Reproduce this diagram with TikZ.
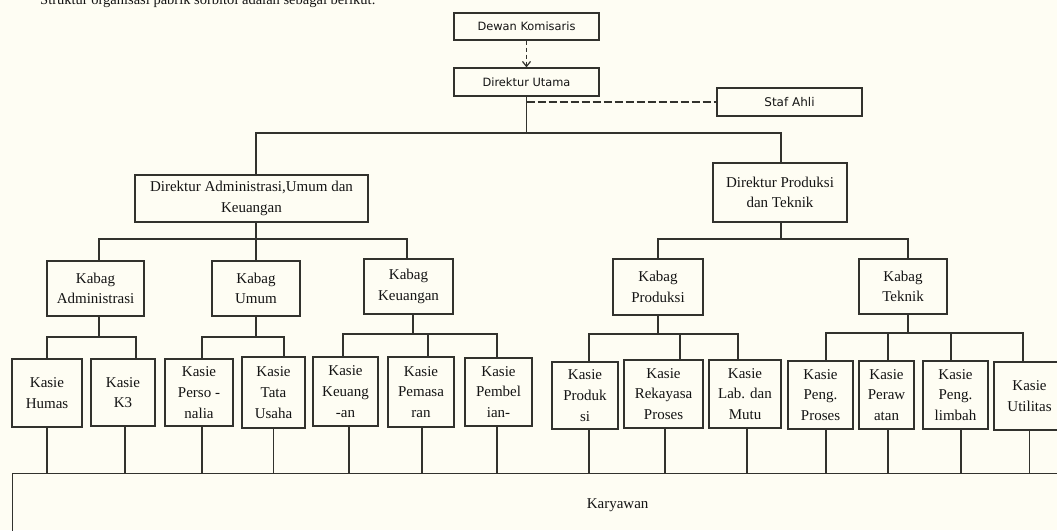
\documentclass[tikz,border=0pt]{standalone}
\usepackage{fontspec}
\usetikzlibrary{arrows.meta}
\newfontfamily\tnr{Liberation Serif}
\newfontfamily\tah{DejaVu Sans}
\definecolor{bgc}{RGB}{254,253,243}
\definecolor{lc}{RGB}{50,50,45}
\definecolor{tc}{RGB}{20,20,20}
\newcommand{\serifsz}{\tnr\fontsize{15}{20.7}\selectfont}
\newcommand{\sansz}{\tah\fontsize{11.4}{13}\selectfont}
\tikzset{
  bx/.style={draw=lc, line width=1.2pt, inner sep=0pt, align=center, font=\serifsz, text=tc},
  sbx/.style={draw=lc, line width=1.2pt, inner sep=0pt, align=center, font=\sansz, text=tc},
  ln/.style={draw=lc, line width=1.2pt},
  dashA/.style={draw=lc, line width=1.2pt, dash pattern=on 4pt off 3pt},
  dashB/.style={draw=lc, line width=1.2pt, dash pattern=on 8pt off 3pt},
}
\begin{document}
\begin{tikzpicture}[x=1pt,y=-1pt]
\useasboundingbox (0,0) rectangle (1057,530);
\clip (0,0) rectangle (1057,530);
\fill[bgc] (0,0) rectangle (1057,530);

\node[anchor=base west, inner sep=0pt, text=tc, font=\tnr\fontsize{14.5}{17}\selectfont] (cap) at (40,5) {Struktur organisasi pabrik sorbitol adalah sebagai berikut.};

% bus levels
\coordinate (bus0) at (0,133);
\coordinate (busL) at (0,239);
\coordinate (busA) at (0,337);
\coordinate (busK) at (0,334);
\coordinate (busT) at (0,333);

% top
\node[sbx, minimum width=145pt, minimum height=27pt] (dk) at (526.5,26.5) {Dewan Komisaris};
\node[sbx, minimum width=145pt, minimum height=28pt] (du) at (526.5,82) {Direktur Utama};
\node[sbx, minimum width=145pt, minimum height=28pt, font=\tah\fontsize{12}{13}\selectfont] (sa) at (789.5,102) {Staf Ahli};

% directors
\node[bx, minimum width=233pt, minimum height=47pt, font=\tnr\fontsize{15}{21.5}\selectfont] (dau) at (251.5,198.5) {Direktur Administrasi,Umum dan\\Keuangan};
\node[bx, minimum width=134pt, minimum height=59pt, font=\tnr\fontsize{15}{20.5}\selectfont] (dpt) at (780,192.5) {Direktur Produksi\\dan Teknik};

% kabag
\node[bx, minimum width=97pt, minimum height=55pt] (kadm) at (95.5,288.5) {Kabag\\Administrasi};
\node[bx, minimum width=88pt, minimum height=55pt] (kum) at (256,288.5) {Kabag\\Umum};
\node[bx, minimum width=89pt, minimum height=55pt] (kkeu) at (408.5,286.5) {Kabag\\Keuangan};
\node[bx, minimum width=90pt, minimum height=56pt] (kpro) at (658,287) {Kabag\\Produksi};
\node[bx, minimum width=88pt, minimum height=55pt] (ktek) at (903,286.5) {Kabag\\Teknik};

% kasie
\node[bx, minimum width=70pt, minimum height=68pt] (humas) at (47,393) {Kasie\\Humas};
\node[bx, minimum width=64pt, minimum height=67pt] (k3) at (123,392.5) {Kasie\\K3};
\node[bx, minimum width=68pt, minimum height=67pt] (pers) at (199,392.5) {Kasie\\Perso -\\nalia};
\node[bx, minimum width=63pt, minimum height=71pt] (tata) at (273.5,392.5) {Kasie\\Tata\\Usaha};
\node[bx, minimum width=65pt, minimum height=69pt] (keu) at (345.5,391.5) {Kasie\\Keuang\\-an};
\node[bx, minimum width=66pt, minimum height=70pt] (pem) at (421,392) {Kasie\\Pemasa\\ran};
\node[bx, minimum width=67pt, minimum height=68pt] (pemb) at (498.5,392) {Kasie\\Pembel\\ian-};
\node[bx, minimum width=66pt, minimum height=67pt] (prod) at (585,395.5) {Kasie\\Produk\\si};
\node[bx, minimum width=79pt, minimum height=68pt] (rek) at (663.5,394) {Kasie\\Rekayasa\\Proses};
\node[bx, minimum width=72pt, minimum height=68pt] (lab) at (745,394) {Kasie\\Lab. dan\\Mutu};
\node[bx, minimum width=65pt, minimum height=68pt] (pengp) at (820.5,395) {Kasie\\Peng.\\Proses};
\node[bx, minimum width=55pt, minimum height=68pt] (peraw) at (886.5,395) {Kasie\\Peraw\\atan};
\node[bx, minimum width=65pt, minimum height=68pt] (pengl) at (955.5,395) {Kasie\\Peng.\\limbah};
\node[bx, minimum width=71pt, minimum height=68pt] (util) at (1029.5,396) {Kasie\\Utilitas};

% karyawan
\node[bx, minimum width=1210pt, minimum height=64pt, anchor=north west] (kar) at (12,473) {Karyawan};

% top connectors
\draw[dashA, -{Straight Barb[length=5pt,width=8pt]}] (dk.south) -- (du.north);
\draw[dashB] (du.south |- sa.west) -- (sa.west);
\draw[ln] (du.south) -- (du.south |- bus0);
\draw[ln] ([xshift=4.5pt]dau.north) |- ([xshift=1pt]dpt.north |- bus0) -- ([xshift=1pt]dpt.north);

% director to kabag
\draw[ln] ([xshift=4.5pt]dau.south) -- ([xshift=4.5pt]dau.south |- busL);
\draw[ln] ([xshift=3.5pt]kadm.north) |- ([xshift=-1.5pt]kkeu.north |- busL) -- ([xshift=-1.5pt]kkeu.north);
\draw[ln] (kum.north) -- (kum.north |- busL);
\draw[ln] ([xshift=1pt]dpt.south) -- ([xshift=1pt]dpt.south |- busL);
\draw[ln] (kpro.north) |- ([xshift=5pt]ktek.north |- busL) -- ([xshift=5pt]ktek.north);

% kabag to kasie
\draw[ln] ([xshift=3.5pt]kadm.south) -- ([xshift=3.5pt]kadm.south |- busA);
\draw[ln] (humas.north) |- ([xshift=13pt]k3.north |- busA) -- ([xshift=13pt]k3.north);
\draw[ln] (kum.south) -- (kum.south |- busA);
\draw[ln] ([xshift=3pt]pers.north) |- ([xshift=10.5pt]tata.north |- busA) -- ([xshift=10.5pt]tata.north);
\draw[ln] ([xshift=4.5pt]kkeu.south) -- ([xshift=4.5pt]kkeu.south |- busK);
\draw[ln] ([xshift=-2.5pt]keu.north) |- ([xshift=-1.5pt]pemb.north |- busK) -- ([xshift=-1.5pt]pemb.north);
\draw[ln] ([xshift=7pt]pem.north) -- ([xshift=7pt]pem.north |- busK);
\draw[ln] (kpro.south) -- (kpro.south |- busK);
\draw[ln] ([xshift=4pt]prod.north) |- ([xshift=-7pt]lab.north |- busK) -- ([xshift=-7pt]lab.north);
\draw[ln] ([xshift=16.5pt]rek.north) -- ([xshift=16.5pt]rek.north |- busK);
\draw[ln] ([xshift=5pt]ktek.south) -- ([xshift=5pt]ktek.south |- busT);
\draw[ln] ([xshift=5.5pt]pengp.north) |- ([xshift=-6.5pt]util.north |- busT) -- ([xshift=-6.5pt]util.north);
\draw[ln] ([xshift=1.5pt]peraw.north) -- ([xshift=1.5pt]peraw.north |- busT);
\draw[ln] ([xshift=-4.5pt]pengl.north) -- ([xshift=-4.5pt]pengl.north |- busT);

% kasie to karyawan
\draw[ln] (humas.south) -- (humas.south |- kar.north);
\draw[ln] ([xshift=2pt]k3.south) -- ([xshift=2pt]k3.south |- kar.north);
\draw[ln] ([xshift=3pt]pers.south) -- ([xshift=3pt]pers.south |- kar.north);
\draw[ln] (tata.south) -- (tata.south |- kar.north);
\draw[ln] ([xshift=3.5pt]keu.south) -- ([xshift=3.5pt]keu.south |- kar.north);
\draw[ln] ([xshift=1pt]pem.south) -- ([xshift=1pt]pem.south |- kar.north);
\draw[ln] ([xshift=-1.5pt]pemb.south) -- ([xshift=-1.5pt]pemb.south |- kar.north);
\draw[ln] ([xshift=4pt]prod.south) -- ([xshift=4pt]prod.south |- kar.north);
\draw[ln] ([xshift=1.5pt]rek.south) -- ([xshift=1.5pt]rek.south |- kar.north);
\draw[ln] ([xshift=2pt]lab.south) -- ([xshift=2pt]lab.south |- kar.north);
\draw[ln] ([xshift=5.5pt]pengp.south) -- ([xshift=5.5pt]pengp.south |- kar.north);
\draw[ln] ([xshift=1.5pt]peraw.south) -- ([xshift=1.5pt]peraw.south |- kar.north);
\draw[ln] ([xshift=5.5pt]pengl.south) -- ([xshift=5.5pt]pengl.south |- kar.north);
\draw[ln] (util.south) -- (util.south |- kar.north);
\end{tikzpicture}
\end{document}
